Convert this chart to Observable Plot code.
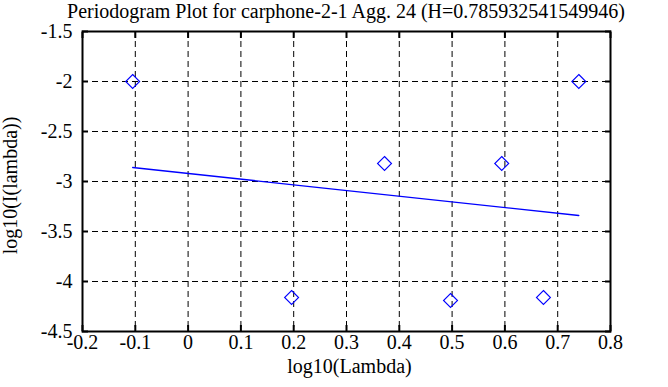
<!DOCTYPE html>
<html>
<head>
<meta charset="utf-8">
<script src="https://cdn.jsdelivr.net/npm/d3@7"></script>
<script src="https://cdn.jsdelivr.net/npm/@observablehq/plot@0.6"></script>
<style>
  body { margin: 0; background: white; }
  #title { width: 668px; box-sizing: border-box; padding-left: 24px; height: 22px; line-height: 22px;
    font-family: "Liberation Serif", serif; font-size: 20px; text-align: center; color: black; white-space: nowrap; }
  #chart svg, #chart svg text { font-family: "Liberation Serif", serif !important; font-variant: normal !important; font-variant-numeric: normal !important; }
</style>
</head>
<body>
<div id="title">Periodogram Plot for carphone-2-1 Agg. 24 (H=0.785932541549946)</div>
<div id="chart"></div>
<script>
const titleText = "Periodogram Plot for carphone-2-1 Agg. 24 (H=0.785932541549946)";
const xLabel = "log10(Lambda)";
const yLabel = "log10(I(lambda))";

// periodogram points: log10(lambda), log10(I(lambda))
const logLambda = [-0.105, 0.196, 0.372, 0.497, 0.594, 0.673, 0.740];
const logI      = [-2.00, -4.16, -2.82, -4.19, -2.82, -4.16, -2.00];

// fitted regression line endpoints
const fitX = [-0.105, 0.740];
const fitY = [-2.86, -3.34];

const xTicks = [-0.2, -0.1, 0, 0.1, 0.2, 0.3, 0.4, 0.5, 0.6, 0.7, 0.8];
const yTicks = [-1.5, -2, -2.5, -3, -3.5, -4, -4.5];

const points = logLambda.map((x, i) => ({x, y: logI[i]}));
const fit = fitX.map((x, i) => ({x, y: fitY[i]}));
const fmt = d => String(d);
const serif = "Liberation Serif";

const chart = Plot.plot({
  width: 668,
  height: 365,
  marginLeft: 82,
  marginRight: 58,
  marginTop: 9,
  marginBottom: 56,
  style: {fontFamily: serif, fontSize: "20px", background: "white", color: "black", overflow: "visible"},
  x: {domain: [-0.2, 0.8]},
  y: {domain: [-4.5, -1.5]},
  marks: [
    Plot.gridX(xTicks, {stroke: "black", strokeOpacity: 1, strokeDasharray: "6,4", strokeWidth: 1}),
    Plot.gridY(yTicks, {stroke: "black", strokeOpacity: 1, strokeDasharray: "6,4", strokeWidth: 1}),
    Plot.axisX(xTicks, {anchor: "bottom", tickSize: -6, strokeWidth: 2, tickFormat: () => "", label: null}),
    Plot.axisX(xTicks, {anchor: "top", tickSize: -6, strokeWidth: 2, tickFormat: () => "", label: null}),
    Plot.axisY(yTicks, {anchor: "left", tickSize: -6, strokeWidth: 2, tickFormat: () => "", label: null}),
    Plot.axisY(yTicks, {anchor: "right", tickSize: -6, strokeWidth: 2, tickFormat: () => "", label: null}),
    Plot.text(xTicks, {x: d => d, text: fmt, frameAnchor: "bottom", lineAnchor: "top", textAnchor: "middle", dy: 3, fontSize: 20, fontFamily: serif, fontVariant: "normal"}),
    Plot.text(yTicks, {y: d => d, text: fmt, frameAnchor: "left", textAnchor: "end", dx: -10, fontSize: 20, fontFamily: serif, fontVariant: "normal"}),
    Plot.line(fit, {x: "x", y: "y", stroke: "#0000ff", strokeWidth: 1.3}),
    Plot.dot(points, {x: "x", y: "y", symbol: "diamond2", r: 6.3, stroke: "#0000ff", fill: "none", strokeWidth: 1.1}),
    Plot.frame({stroke: "black", strokeWidth: 2}),
    Plot.text([xLabel], {text: d => d, frameAnchor: "bottom", textAnchor: "middle", dx: 3, dy: 41, fontSize: 20, fontFamily: serif}),
    Plot.text([yLabel], {text: d => d, frameAnchor: "left", textAnchor: "middle", rotate: -90, dx: -72, dy: 4, fontSize: 20, fontFamily: serif})
  ]
});
document.getElementById("chart").appendChild(chart);
</script>
</body>
</html>
